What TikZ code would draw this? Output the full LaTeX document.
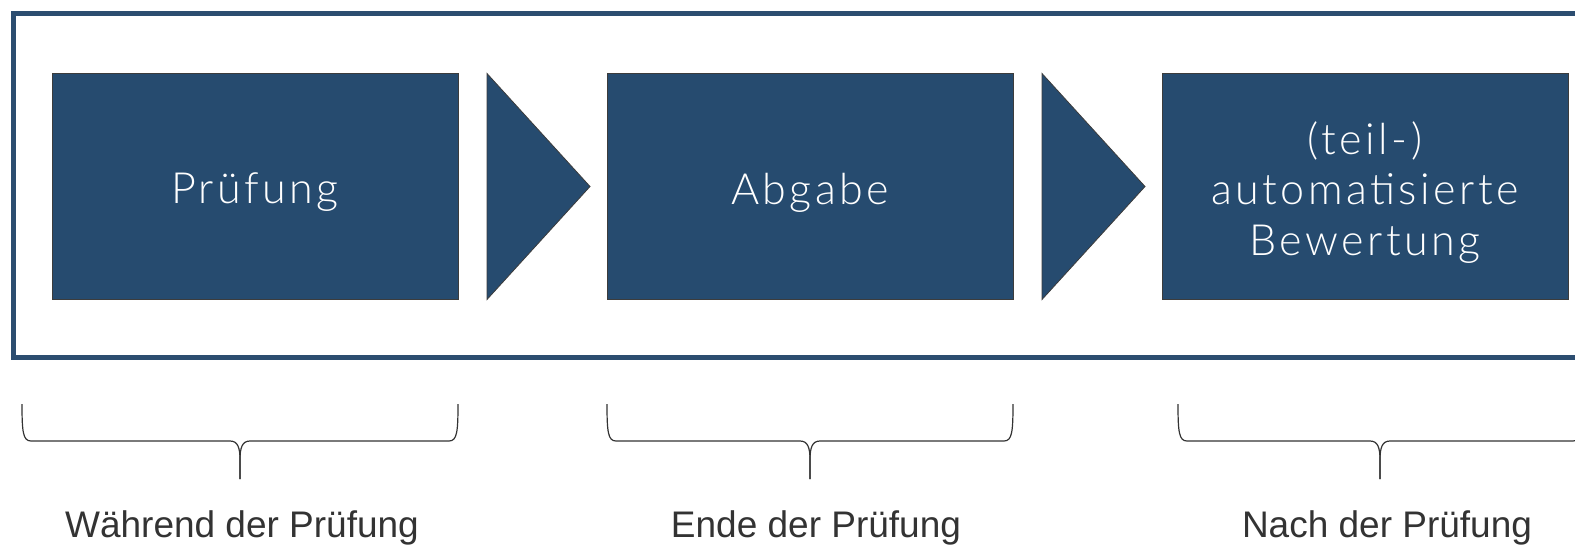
\documentclass[tikz,border=0pt]{standalone}
\usepackage{fontspec}
\setmainfont{Liberation Sans}
\newfontfamily\boxfont[LetterSpace=8.0]{Lato Light}
\definecolor{boxblue}{RGB}{38,75,111}
\definecolor{frameblue}{RGB}{44,77,112}
\definecolor{labelgray}{RGB}{51,51,51}
\definecolor{edgegray}{RGB}{60,60,60}
\newcommand\mybrace[4]{% name, left, tip, right
  \coordinate (#1l) at (#2,404);
  \coordinate (#1t) at (#3,479);
  \coordinate (#1r) at (#4,404);
  \draw[bracestyle] (#1l) .. controls (#2,432) and (#2+1,441) .. (#2+9,441)
    -- (#3-10,441) .. controls (#3-2,441) and (#3,448) .. (#3,460) -- (#1t);
  \draw[bracestyle] (#1r) .. controls (#4,432) and (#4-1,441) .. (#4-9,441)
    -- (#3+10,441) .. controls (#3+2,441) and (#3,448) .. (#3,460) -- (#1t);
}
\begin{document}
\begin{tikzpicture}[x=1pt,y=-1pt,
  stepbox/.style={draw=edgegray, line width=0.8pt, fill=boxblue, minimum width=406pt,
    minimum height=226pt, inner sep=0pt},
  steptext/.style={inner sep=0pt, text=white, align=center,
    font=\boxfont\fontsize{43}{50.5}\selectfont},
  arrowtri/.style={draw=edgegray, line width=0.8pt, fill=boxblue},
  frame/.style={draw=frameblue, line width=5pt},
  bracestyle/.style={draw=labelgray, line width=1.2pt},
  phaselabel/.style={text=labelgray, font=\fontsize{37}{43}\selectfont, anchor=base}]
\useasboundingbox (0,0) rectangle (1575,546);
\clip (0,0) rectangle (1575,546);
\fill[white] (0,0) rectangle (1575,546);
\draw[frame] (13,13.5) rectangle (1620,357.5);
\node[stepbox] (b1) at (255,186.5) {};
\node[stepbox] (b2) at (810,186.5) {};
\node[stepbox] (b3) at (1365,186.5) {};
\node[steptext] (t1) at ([yshift=-6pt]b1.center) {Prüfung};
\node[steptext] (t2) at ([yshift=-6pt]b2.center) {Abgabe};
\node[steptext] (t3) at ([yshift=-6pt]b3.center) {(teil-)\\automatisierte\\Bewertung};
\draw[arrowtri] (487,73.5) -- (590,186.5) -- (487,299.5) -- cycle;
\draw[arrowtri] (1042,73.5) -- (1145,186.5) -- (1042,299.5) -- cycle;
\mybrace{br1}{22}{240}{458}
\mybrace{br2}{607}{810}{1013}
\mybrace{br3}{1178}{1380}{1582}
\node[phaselabel] (l1) at (242,537) {Während der Prüfung};
\node[phaselabel] (l2) at (816,537) {Ende der Prüfung};
\node[phaselabel] (l3) at (1387,537) {Nach der Prüfung};
\end{tikzpicture}
\end{document}
